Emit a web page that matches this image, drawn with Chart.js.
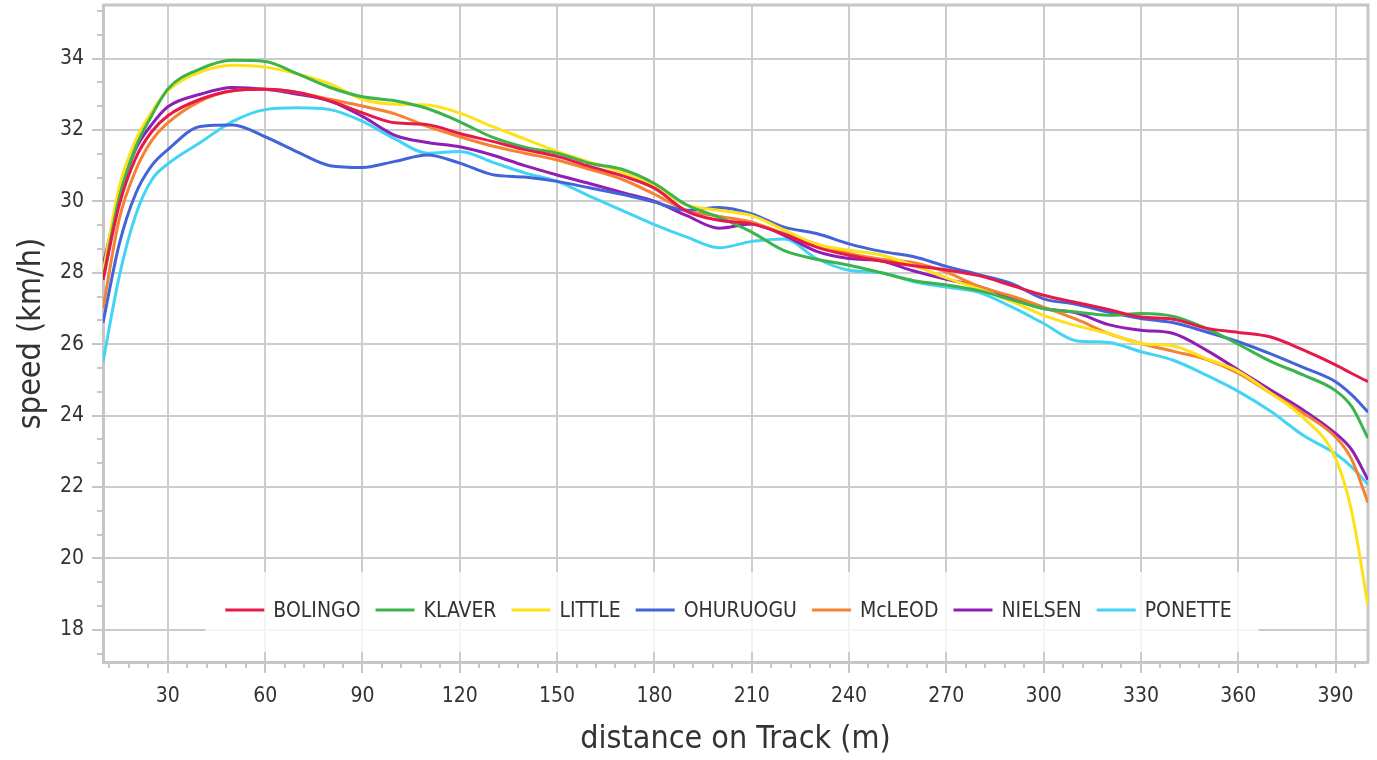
<!DOCTYPE html>
<html>
<head>
<meta charset="utf-8">
<script src="https://cdn.jsdelivr.net/npm/chart.js@4.4.1/dist/chart.umd.min.js"></script>
<style>
  body { margin: 0; background: #fff; }
  canvas { display: block; }
</style>
</head>
<body>
<canvas id="myChart" width="1377" height="760"></canvas>
<script>
// distance on track (m)
var distance = [10, 15, 20, 25, 30, 40, 50, 60, 70, 80, 90, 100, 110, 120, 130, 140, 150, 160, 170, 180,
  190, 200, 210, 220, 230, 240, 250, 260, 270, 280, 290, 300, 310, 320, 330, 340, 350, 360, 370, 380, 390, 395, 400];

// speed (km/h) per athlete
var bolingo = [27.8, 29.9, 31.2, 31.95, 32.4, 32.86, 33.1, 33.14, 33.05, 32.81, 32.48, 32.2, 32.15, 31.9, 31.68, 31.45, 31.26, 30.98, 30.72, 30.37,
  29.72, 29.47, 29.37, 29.08, 28.72, 28.49, 28.33, 28.2, 28.08, 27.92, 27.65, 27.37, 27.17, 26.97, 26.76, 26.7, 26.45, 26.33, 26.2, 25.84, 25.42, 25.18, 24.95];
var klaver = [27.8, 30.1, 31.5, 32.4, 33.15, 33.71, 33.95, 33.92, 33.57, 33.19, 32.93, 32.82, 32.6, 32.23, 31.8, 31.52, 31.35, 31.07, 30.9, 30.5,
  29.9, 29.55, 29.14, 28.62, 28.38, 28.21, 28.0, 27.78, 27.66, 27.5, 27.25, 27.0, 26.9, 26.81, 26.86, 26.78, 26.45, 26.0, 25.52, 25.14, 24.7, 24.25, 23.37];
var little = [28.0, 30.4, 31.7, 32.5, 33.1, 33.62, 33.81, 33.76, 33.57, 33.29, 32.86, 32.72, 32.7, 32.47, 32.1, 31.75, 31.4, 31.1, 30.82, 30.42,
  29.9, 29.75, 29.6, 29.2, 28.8, 28.63, 28.5, 28.2, 27.86, 27.55, 27.2, 26.81, 26.52, 26.3, 26.02, 25.95, 25.6, 25.24, 24.63, 23.95, 22.8, 21.3, 18.68];
var ohuruogu = [26.6, 28.8, 30.2, 31.0, 31.45, 32.1, 32.14, 31.81, 31.38, 31.0, 30.95, 31.12, 31.3, 31.07, 30.75, 30.68, 30.56, 30.38, 30.2, 29.98,
  29.75, 29.83, 29.65, 29.28, 29.1, 28.81, 28.6, 28.45, 28.18, 27.95, 27.7, 27.27, 27.12, 26.9, 26.72, 26.6, 26.35, 26.07, 25.73, 25.35, 24.95, 24.58, 24.1];
var mcleod = [27.0, 29.5, 30.85, 31.7, 32.2, 32.81, 33.1, 33.14, 33.05, 32.86, 32.67, 32.45, 32.1, 31.81, 31.55, 31.35, 31.16, 30.9, 30.62, 30.2,
  29.75, 29.58, 29.42, 29.1, 28.8, 28.54, 28.38, 28.28, 28.02, 27.62, 27.35, 27.04, 26.7, 26.3, 26.02, 25.8, 25.58, 25.19, 24.63, 24.07, 23.4, 22.77, 21.56];
var nielsen = [28.2, 30.1, 31.45, 32.15, 32.65, 33.0, 33.19, 33.14, 33.0, 32.81, 32.38, 31.85, 31.65, 31.53, 31.3, 31.0, 30.74, 30.5, 30.25, 30.0,
  29.6, 29.25, 29.37, 29.05, 28.6, 28.4, 28.33, 28.05, 27.82, 27.62, 27.3, 27.0, 26.88, 26.55, 26.39, 26.3, 25.84, 25.28, 24.72, 24.16, 23.5, 23.04, 22.2];
var ponette = [25.5, 27.9, 29.6, 30.6, 31.05, 31.65, 32.24, 32.57, 32.62, 32.57, 32.24, 31.75, 31.35, 31.4, 31.1, 30.8, 30.56, 30.15, 29.75, 29.35,
  29.0, 28.7, 28.88, 28.95, 28.4, 28.07, 28.0, 27.75, 27.6, 27.45, 27.05, 26.58, 26.1, 26.05, 25.79, 25.55, 25.14, 24.68, 24.12, 23.45, 22.93, 22.56, 22.07];

var names = ["BOLINGO", "KLAVER", "LITTLE", "OHURUOGU", "McLEOD", "NIELSEN", "PONETTE"];
var series = [bolingo, klaver, little, ohuruogu, mcleod, nielsen, ponette];
var colors = ["#e6194b", "#3cb44b", "#ffe119", "#4363d8", "#f58231", "#911eb4", "#42d4f4"];

// axis ticks
var xTicks = [30, 60, 90, 120, 150, 180, 210, 240, 270, 300, 330, 360, 390];
var yTicks = [18, 20, 22, 24, 26, 28, 30, 32, 34];

var FONT = '"DejaVu Sans Condensed", "Noto Sans", sans-serif';
var GRID = '#cccccc';
var AXIS = '#c6c6c6';

// minor ticks, frame and in-plot legend
var extras = {
  id: 'extras',
  beforeDatasetsDraw: function (chart) {
    var ctx = chart.ctx, a = chart.chartArea;
    var xs = chart.scales.x, ys = chart.scales.y;
    ctx.save();
    ctx.strokeStyle = AXIS;
    ctx.lineWidth = 2;
    ctx.beginPath();
    for (var v = 12; v <= 396; v += 6) {
      if (v % 30 === 0) continue;
      var px = Math.round(xs.getPixelForValue(v));
      ctx.moveTo(px, a.bottom);
      ctx.lineTo(px, a.bottom + 6);
    }
    for (var i = 0; i < 40; i++) {
      if (i % 3 === 0) continue;
      var val = 16 + i * 2 / 3;
      if (val < ys.min || val > ys.max) continue;
      var py = Math.round(ys.getPixelForValue(val));
      ctx.moveTo(a.left - 6, py);
      ctx.lineTo(a.left, py);
    }
    ctx.stroke();
    // top and right frame
    ctx.lineWidth = 3;
    ctx.beginPath();
    ctx.moveTo(a.left, a.top);
    ctx.lineTo(a.right, a.top);
    ctx.lineTo(a.right, a.bottom);
    ctx.stroke();
    ctx.restore();
  },
  afterDatasetsDraw: function (chart) {
    var ctx = chart.ctx, a = chart.chartArea;
    ctx.save();
    ctx.font = '21px ' + FONT;
    var lineLen = 39, gap = 9, itemGap = 15;
    var widths = names.map(function (n) { return ctx.measureText(n).width; });
    var total = 0;
    widths.forEach(function (w) { total += lineLen + gap + w; });
    total += itemGap * (names.length - 1);
    var cx = (a.left + a.right) / 2 - 7;
    var x = cx - total / 2;
    var rowY = a.bottom - 51;
    ctx.fillStyle = 'rgba(255,255,255,0.78)';
    ctx.fillRect(x - 20, rowY - 39, total + 47, 80);
    ctx.textBaseline = 'middle';
    for (var i = 0; i < names.length; i++) {
      ctx.strokeStyle = colors[i];
      ctx.lineWidth = 3;
      ctx.beginPath();
      ctx.moveTo(x, rowY - 1);
      ctx.lineTo(x + lineLen, rowY - 1);
      ctx.stroke();
      ctx.fillStyle = '#333333';
      ctx.fillText(names[i], x + lineLen + gap, rowY + 1);
      x += lineLen + gap + widths[i] + itemGap;
    }
    ctx.restore();
  }
};

var ctx = document.getElementById('myChart').getContext('2d');
var chart = new Chart(ctx, {
  type: 'line',
  data: {
    datasets: series.map(function (s, k) {
      return {
        label: names[k],
        data: distance.map(function (d, i) { return { x: d, y: s[i] }; }),
        borderColor: colors[k],
        backgroundColor: colors[k],
        borderWidth: 3,
        pointRadius: 0,
        fill: false,
        cubicInterpolationMode: 'monotone'
      };
    })
  },
  options: {
    responsive: false,
    animation: false,
    layout: { padding: { top: 5, right: 9, left: 0, bottom: 0 } },
    plugins: {
      legend: { display: false },
      tooltip: { enabled: false }
    },
    scales: {
      x: {
        type: 'linear',
        min: 10,
        max: 400,
        afterBuildTicks: function (s) { s.ticks = xTicks.map(function (v) { return { value: v }; }); },
        afterFit: function (s) { s.height = 98; s.paddingLeft = 0; s.paddingRight = 0; },
        grid: { color: GRID, lineWidth: 2, tickLength: 11, tickColor: AXIS },
        border: { color: AXIS, width: 3 },
        ticks: { color: '#333333', padding: 11, maxRotation: 0, font: { family: FONT, size: 21 } },
        title: {
          display: true,
          text: 'distance on Track (m)',
          color: '#333333',
          font: { family: FONT, size: 32 },
          padding: { top: 0, bottom: 1 }
        }
      },
      y: {
        min: 17.1,
        max: 35.5,
        afterBuildTicks: function (s) { s.ticks = yTicks.map(function (v) { return { value: v }; }); },
        afterFit: function (s) { s.width = 103; s.paddingTop = 0; s.paddingBottom = 0; },
        grid: { color: GRID, lineWidth: 2, tickLength: 11, tickColor: AXIS },
        border: { color: AXIS, width: 3 },
        ticks: { color: '#333333', padding: 8, font: { family: FONT, size: 21 } },
        title: {
          display: true,
          text: 'speed (km/h)',
          color: '#333333',
          font: { family: FONT, size: 32 },
          padding: { top: 12, bottom: 0 }
        }
      }
    }
  },
  plugins: [extras]
});
</script>
</body>
</html>
